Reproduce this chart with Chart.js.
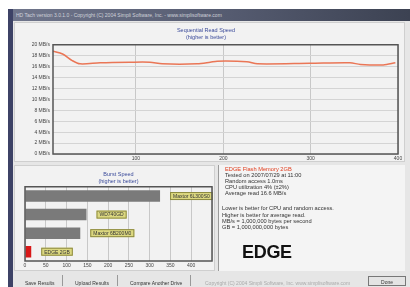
<!DOCTYPE html>
<html>
<head>
<meta charset="utf-8">
<script src="https://cdn.jsdelivr.net/npm/chart.js@4"></script>
<style>
body{margin:0;width:410px;height:287px;background:#fff;position:relative;overflow:hidden;font-family:"Liberation Sans",Arial,sans-serif}
.abs{position:absolute}
#frame{left:8px;top:9px;width:402px;height:278px;background:#e6e6e6}
#leftbar{left:8px;top:9px;width:5px;height:278px;background:#3d4266}
#titlebar{left:8px;top:9px;width:402px;height:12px;background:linear-gradient(90deg,#70768c,#555b70 55%,#3c4252);color:#d0d2da;font-size:5px;line-height:12px;padding-left:8px;box-sizing:border-box;white-space:nowrap}
#topPanel{left:14px;top:22px;width:391px;height:140px;background:#f2f2f2;border:1px solid #cfcfcf;box-sizing:border-box}
#burstPanel{left:14px;top:165px;width:201px;height:106px;background:#f2f2f2;border:1px solid #cfcfcf;box-sizing:border-box}
#infoPanel{left:218px;top:165px;width:187px;height:106px;background:#f4f4f4;border-left:1px solid #9a9a9a;box-sizing:border-box}
.info{font-size:5.7px;line-height:6px;color:#333;white-space:nowrap}
#edge{left:242px;top:242px;font-size:18px;font-weight:bold;color:#111;letter-spacing:-0.3px}
.btn{font-size:5px;color:#333;top:280px;white-space:nowrap}
.sep{top:275px;width:1px;height:11px;background:#999}
#done{left:368px;top:276px;width:38px;height:10px;border:1px solid #777;background:#e4e4e4;font-size:5px;line-height:10px;text-align:center;color:#333;box-sizing:border-box}
#copy{left:205px;top:280px;font-size:5px;color:#aaa;white-space:nowrap}
</style>
</head>
<body>
<div id="frame" class="abs"></div>
<div id="titlebar" class="abs">HD Tach version 3.0.1.0 - Copyright (C) 2004 Simpli Software, Inc. - www.simplisoftware.com</div>
<div id="leftbar" class="abs"></div>
<div id="topPanel" class="abs"></div>
<div id="burstPanel" class="abs"></div>
<div id="infoPanel" class="abs"></div>
<canvas id="readChart" class="abs" width="391" height="145" style="left:14px;top:22px"></canvas>
<canvas id="burstChart" class="abs" width="201" height="106" style="left:14px;top:165px"></canvas>

<div class="abs info" style="left:225px;top:166px;color:#e03c1c">EDGE Flash Memory 2GB</div>
<div class="abs info" style="left:225px;top:172px">Tested on 2007/07/29 at 11:00</div>
<div class="abs info" style="left:225px;top:178px">Random access 1.0ms</div>
<div class="abs info" style="left:225px;top:184px">CPU utilization 4% (±2%)</div>
<div class="abs info" style="left:225px;top:190px">Average read 16.6 MB/s</div>
<div class="abs info" style="left:222px;top:205px">Lower is better for CPU and random access.</div>
<div class="abs info" style="left:222px;top:212px">Higher is better for average read.</div>
<div class="abs info" style="left:222px;top:218px">MB/s = 1,000,000 bytes per second</div>
<div class="abs info" style="left:222px;top:224px">GB = 1,000,000,000 bytes</div>
<div id="edge" class="abs">EDGE</div>

<div class="abs btn" style="left:25px">Save Results</div>
<div class="abs sep" style="left:62px"></div>
<div class="abs btn" style="left:75px">Upload Results</div>
<div class="abs sep" style="left:117px"></div>
<div class="abs btn" style="left:130px">Compare Another Drive</div>
<div class="abs sep" style="left:190px"></div>
<div id="copy" class="abs">Copyright (C) 2004 Simpli Software, Inc. www.simplisoftware.com</div>
<div id="done" class="abs">Done</div>

<script>
// sequential read: position (MB) and speed (MB/s)
const readPosMB = [5, 16, 27, 36, 59, 93, 116, 130, 170, 185, 193, 227, 239, 299, 345, 357, 383, 397];
const readSpeed = [18.8, 18.3, 17.1, 16.5, 16.7, 16.8, 16.8, 16.5, 16.5, 16.8, 17.0, 16.9, 16.5, 16.6, 16.7, 16.4, 16.3, 16.7];
const readXTicks = [100, 200, 300, 400];

// burst speed comparison bars
const burstDrives = ['Maxtor 6L300S0', 'WD740GD', 'Maxtor 6B200M0', 'EDGE 2GB'];
const burstSpeed = [325, 148, 133, 15];
const burstColors = ['#7a7a7a', '#7a7a7a', '#7a7a7a', '#d81818'];

const axisFont = { family: 'Liberation Sans', size: 5 };

const plotBorder = {
  id: 'plotBorder',
  afterDraw(chart) {
    const a = chart.chartArea, ctx = chart.ctx;
    ctx.save();
    ctx.strokeStyle = '#555';
    ctx.lineWidth = 1.5;
    ctx.strokeRect(a.left, a.top, a.right - a.left, a.bottom - a.top);
    ctx.restore();
  }
};

new Chart(document.getElementById('readChart'), {
  type: 'line',
  data: {
    datasets: [{
      data: readPosMB.map((x, i) => ({ x: x, y: readSpeed[i] })),
      borderColor: '#ea7656',
      borderWidth: 1.5,
      pointRadius: 0,
      tension: 0.3
    }]
  },
  options: {
    responsive: false,
    animation: false,
    layout: { padding: { right: 7 } },
    scales: {
      x: {
        type: 'linear', min: 5, max: 400,
        afterBuildTicks: s => { s.ticks = readXTicks.map(v => ({ value: v })); },
        afterFit: s => { s.height = 13; },
        ticks: { font: axisFont, color: '#444', padding: 2, maxRotation: 0 },
        grid: { color: '#c8c8c8', drawTicks: false },
        border: { display: false }
      },
      y: {
        min: 0, max: 20,
        afterFit: s => { s.width = 39; },
        ticks: { stepSize: 2, font: axisFont, color: '#444', padding: 3, callback: v => v + ' MB/s' },
        grid: { color: '#d4d4d4', drawTicks: false },
        border: { display: false }
      }
    },
    plugins: {
      legend: { display: false },
      tooltip: { enabled: false },
      title: {
        display: true,
        text: ['Sequential Read Speed', '(higher is better)'],
        color: '#3a4a9a',
        font: { family: 'Liberation Sans', size: 5.5, weight: 'normal', lineHeight: 1.25 },
        padding: { top: 5, bottom: 4 }
      }
    }
  },
  plugins: [plotBorder]
});

const barTags = {
  id: 'barTags',
  afterDatasetsDraw(chart) {
    const ctx = chart.ctx;
    const meta = chart.getDatasetMeta(0);
    ctx.save();
    ctx.font = '5px "Liberation Sans"';
    ctx.textBaseline = 'middle';
    meta.data.forEach((bar, i) => {
      const label = burstDrives[i];
      const w = ctx.measureText(label).width + 6;
      const x = bar.x + 10, y = bar.y;
      ctx.fillStyle = '#dcd880';
      ctx.fillRect(x, y - 4, w, 8);
      ctx.strokeStyle = '#8c8a40';
      ctx.lineWidth = 1;
      ctx.strokeRect(x + 0.5, y - 3.5, w - 1, 7);
      ctx.fillStyle = '#333';
      ctx.fillText(label, x + 3, y + 0.5);
    });
    ctx.restore();
  }
};

new Chart(document.getElementById('burstChart'), {
  type: 'bar',
  data: {
    labels: burstDrives,
    datasets: [{
      data: burstSpeed,
      backgroundColor: burstColors,
      categoryPercentage: 1,
      barPercentage: 0.62
    }]
  },
  options: {
    indexAxis: 'y',
    responsive: false,
    animation: false,
    layout: { padding: { left: 11, right: 3 } },
    scales: {
      x: {
        min: 0, max: 450,
        afterFit: s => { s.height = 10; },
        ticks: { stepSize: 50, font: axisFont, color: '#444', padding: 2, maxRotation: 0,
                 callback: v => v === 450 ? '' : v },
        grid: { color: '#c8c8c8', drawTicks: false },
        border: { display: false }
      },
      y: { display: false }
    },
    plugins: {
      legend: { display: false },
      tooltip: { enabled: false },
      title: {
        display: true,
        text: ['Burst Speed', '(higher is better)'],
        color: '#3a4a9a',
        font: { family: 'Liberation Sans', size: 5.5, weight: 'normal', lineHeight: 1.25 },
        padding: { top: 6, bottom: 2 }
      }
    }
  },
  plugins: [plotBorder, barTags]
});
</script>
</body>
</html>
